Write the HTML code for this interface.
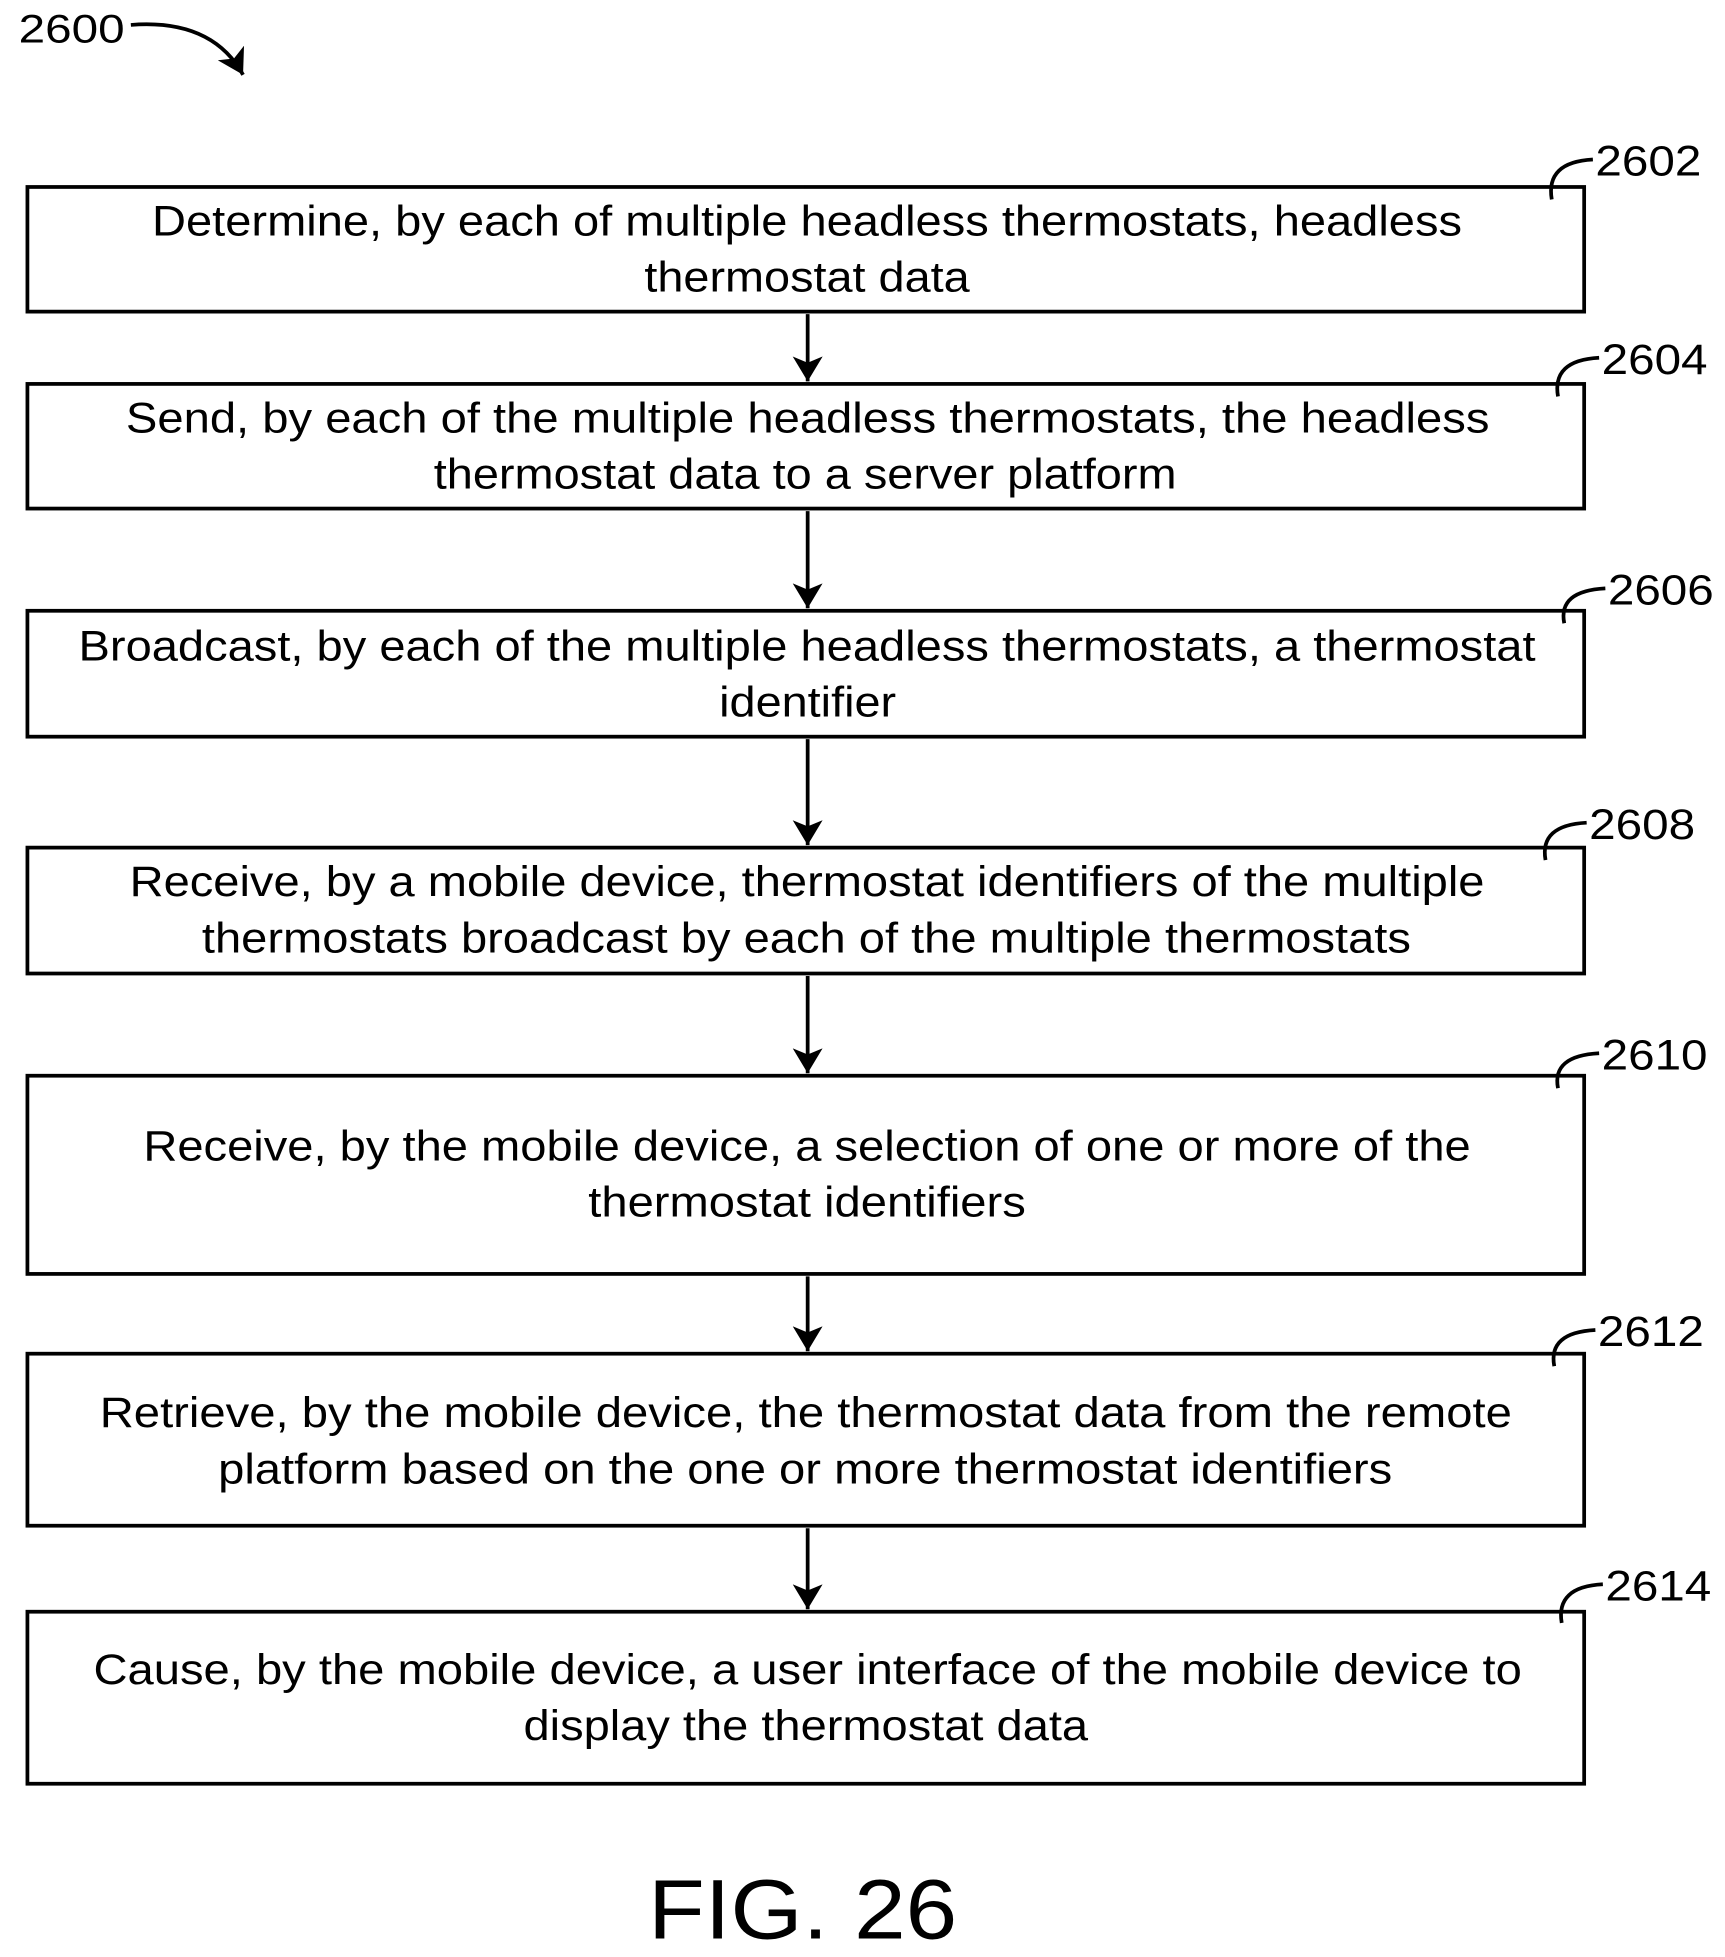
<!DOCTYPE html>
<html><head><style>html,body{margin:0;padding:0;background:#fff}svg{display:block}</style></head>
<body>
<svg width="1725" height="1957" viewBox="0 0 1384 1570" preserveAspectRatio="none" xmlns="http://www.w3.org/2000/svg" font-family="Liberation Sans, Arial, sans-serif" fill="#000">
<defs>
<marker id="ah" viewBox="0 0 20 24" markerWidth="20" markerHeight="24" refX="20" refY="12" orient="auto" markerUnits="userSpaceOnUse"><path d="M0,0 L20,12 L0,24 L5,12 z"/></marker></defs>
<g fill="none" stroke="#000" stroke-width="3">
<rect x="22" y="150" width="1249" height="100"/>
<rect x="22" y="308" width="1249" height="100"/>
<rect x="22" y="490" width="1249" height="101"/>
<rect x="22" y="680" width="1249" height="101"/>
<rect x="22" y="863" width="1249" height="159"/>
<rect x="22" y="1086" width="1249" height="138"/>
<rect x="22" y="1293" width="1249" height="138"/>
</g>
<g stroke="#000" stroke-width="3" marker-end="url(#ah)">
<line x1="648" y1="252" x2="648" y2="306"/>
<line x1="648" y1="410" x2="648" y2="488"/>
<line x1="648" y1="593" x2="648" y2="678"/>
<line x1="648" y1="783" x2="648" y2="861"/>
<line x1="648" y1="1024" x2="648" y2="1084"/>
<line x1="648" y1="1226" x2="648" y2="1291"/>
</g>
<g fill="none" stroke="#000" stroke-width="3">
<path d="M105,20 Q170,15 195,60" marker-end="url(#ah)"/>
<path d="M1278,128 Q1240,130 1245,160"/>
<path d="M1283,287 Q1245,289 1250,318"/>
<path d="M1288,472 Q1250,474 1255,500"/>
<path d="M1273,660 Q1235,662 1240,690"/>
<path d="M1283,845 Q1245,847 1250,873"/>
<path d="M1280,1067 Q1242,1069 1247,1096"/>
<path d="M1286,1271 Q1248,1273 1253,1302"/>
</g>
<g font-size="34">
<text x="15" y="34" font-size="32" textLength="85" lengthAdjust="spacingAndGlyphs">2600</text>
<text x="1280" y="141" font-size="34" textLength="85" lengthAdjust="spacingAndGlyphs">2602</text>
<text x="1285" y="300" font-size="34" textLength="85" lengthAdjust="spacingAndGlyphs">2604</text>
<text x="1290" y="485" font-size="34" textLength="85" lengthAdjust="spacingAndGlyphs">2606</text>
<text x="1275" y="673" font-size="34" textLength="85" lengthAdjust="spacingAndGlyphs">2608</text>
<text x="1285" y="858" font-size="34" textLength="85" lengthAdjust="spacingAndGlyphs">2610</text>
<text x="1282" y="1080" font-size="34" textLength="85" lengthAdjust="spacingAndGlyphs">2612</text>
<text x="1288" y="1284" font-size="34" textLength="85" lengthAdjust="spacingAndGlyphs">2614</text>
<text x="122" y="189" textLength="1051" lengthAdjust="spacingAndGlyphs">Determine, by each of multiple headless thermostats, headless</text>
<text x="517" y="234" textLength="261" lengthAdjust="spacingAndGlyphs">thermostat data</text>
<text x="101" y="347" textLength="1094" lengthAdjust="spacingAndGlyphs">Send, by each of the multiple headless thermostats, the headless</text>
<text x="348" y="392" textLength="596" lengthAdjust="spacingAndGlyphs">thermostat data to a server platform</text>
<text x="63" y="530" textLength="1169" lengthAdjust="spacingAndGlyphs">Broadcast, by each of the multiple headless thermostats, a thermostat</text>
<text x="577" y="575" textLength="142" lengthAdjust="spacingAndGlyphs">identifier</text>
<text x="104" y="719" textLength="1087" lengthAdjust="spacingAndGlyphs">Receive, by a mobile device, thermostat identifiers of the multiple</text>
<text x="162" y="764" textLength="970" lengthAdjust="spacingAndGlyphs">thermostats broadcast by each of the multiple thermostats</text>
<text x="115" y="931" textLength="1065" lengthAdjust="spacingAndGlyphs">Receive, by the mobile device, a selection of one or more of the</text>
<text x="472" y="976" textLength="351" lengthAdjust="spacingAndGlyphs">thermostat identifiers</text>
<text x="80" y="1145" textLength="1133" lengthAdjust="spacingAndGlyphs">Retrieve, by the mobile device, the thermostat data from the remote</text>
<text x="175" y="1190" textLength="942" lengthAdjust="spacingAndGlyphs">platform based on the one or more thermostat identifiers</text>
<text x="75" y="1351" textLength="1146" lengthAdjust="spacingAndGlyphs">Cause, by the mobile device, a user interface of the mobile device to</text>
<text x="420" y="1396" textLength="453" lengthAdjust="spacingAndGlyphs">display the thermostat data</text>
<text x="520" y="1555" font-size="68" textLength="248" lengthAdjust="spacingAndGlyphs">FIG. 26</text>
</g>
</svg>
</body></html>
